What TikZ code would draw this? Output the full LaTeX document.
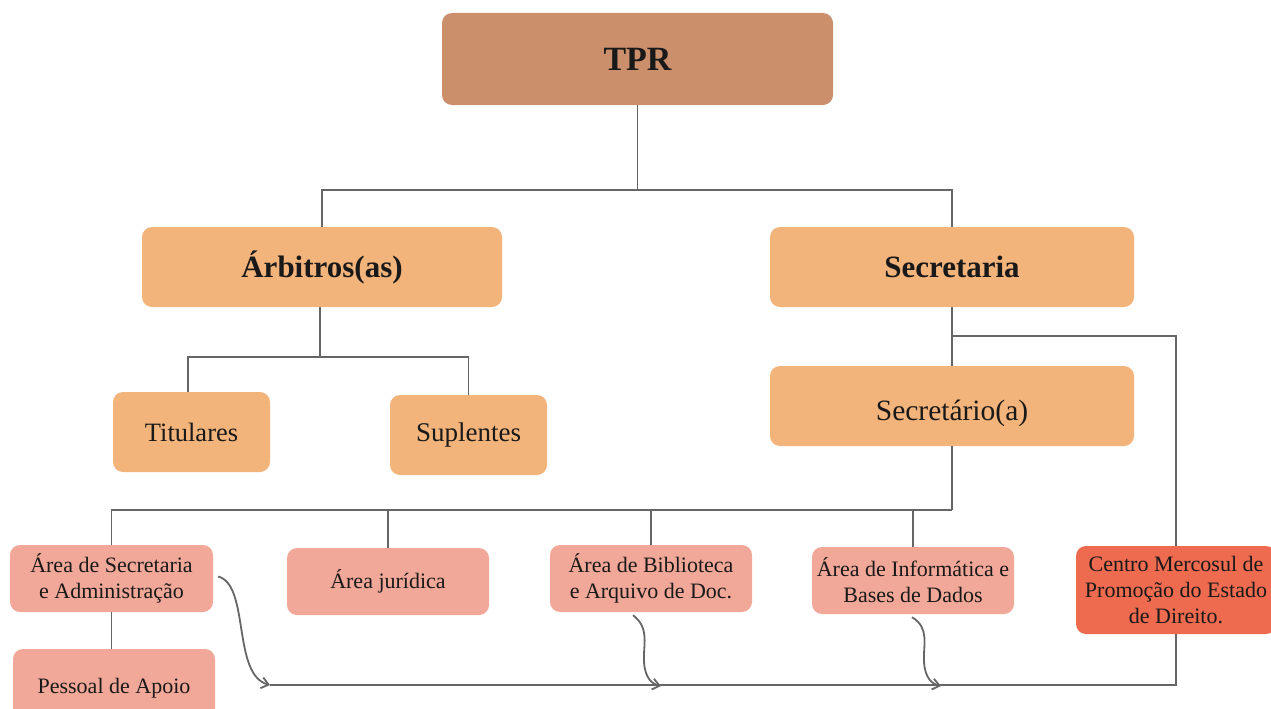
\documentclass[tikz,border=0pt]{standalone}
\usepackage{fontspec}
\setmainfont{Liberation Serif}
\usetikzlibrary{arrows.meta}
\definecolor{tprc}{HTML}{CC8F6C}
\definecolor{orgc}{HTML}{F3B47C}
\definecolor{pinkc}{HTML}{F2A898}
\definecolor{redc}{HTML}{EE6B50}
\definecolor{linec}{HTML}{666666}
\begin{document}
\begin{tikzpicture}[x=1pt,y=-1pt,
  box/.style={draw=none,rounded corners=10pt,align=center,inner sep=0pt,text=black!90},
  topbox/.style={box,fill=tprc,font=\fontsize{34}{38}\selectfont\bfseries},
  hbox/.style={box,fill=orgc,font=\fontsize{31}{35}\selectfont\bfseries},
  obox/.style={box,fill=orgc},
  pbox/.style={box,fill=pinkc,font=\fontsize{22}{26}\selectfont},
  rbox/.style={box,fill=redc,font=\fontsize{22}{26}\selectfont},
  conn/.style={draw=linec,line width=1.8pt},
  curvy/.style={draw=linec,line width=1.8pt,-{Straight Barb[length=7pt,width=11pt]}}]
\useasboundingbox (0,0) rectangle (1271,709);
% nodes
\node[topbox,minimum width=391pt,minimum height=92pt] (tpr) at (637.5,59) {TPR};
\node[hbox,minimum width=360pt,minimum height=80pt] (arb) at (322,267) {Árbitros(as)};
\node[hbox,minimum width=364pt,minimum height=80pt] (sec) at (952,267) {Secretaria};
\node[obox,font=\fontsize{26.5}{30}\selectfont,minimum width=157pt,minimum height=80pt] (tit) at (191.5,432) {Titulares};
\node[obox,font=\fontsize{27}{30}\selectfont,minimum width=157pt,minimum height=80pt] (sup) at (468.5,435) {Suplentes};
\node[obox,font=\fontsize{29.5}{33}\selectfont,minimum width=364pt,minimum height=80pt,text height=28pt,text depth=0pt] (sria) at (952,406) {Secretário(a)};
\node[pbox,minimum width=203pt,minimum height=67pt] (asa) at (111.5,578.5) {Área de Secretaria\\e Administração};
\node[pbox,minimum width=202pt,minimum height=67pt] (aju) at (388,581.5) {Área jurídica};
\node[pbox,minimum width=202pt,minimum height=67pt] (abi) at (651,578.5) {Área de Biblioteca\\e Arquivo de Doc.};
\node[pbox,minimum width=202pt,minimum height=67pt] (ainf) at (913,580.5) {Área de Informática e\\Bases de Dados};
\node[rbox,minimum width=200pt,minimum height=88pt] (cmp) at (1176,590) {Centro Mercosul de\\Promoção do Estado\\de Direito.};
\node[pbox,minimum width=202pt,minimum height=70pt,text height=18pt,text depth=0pt] (pap) at (114,684) {Pessoal de Apoio};
% coordinates
\coordinate (j1) at (637.5,190);
\coordinate (j2) at (320,357);
\coordinate (j3) at (952,336);
\coordinate (j4) at (952,510);
\coordinate (bl) at (270,685);
\coordinate (br) at (1176,685);
% connectors
\draw[conn] (tpr.south) -- (j1);
\draw[conn] (arb.north) |- (j1) -| (sec.north);
\draw[conn] (arb.south -| j2) -- (j2);
\draw[conn] (tit.north -| 188,0) |- (j2) -| (sup.north);
\draw[conn] (sec.south) -- (sria.north);
\draw[conn] (j3) -| (cmp.north);
\draw[conn] (sria.south) -- (j4);
\draw[conn] (asa.north) |- (j4);
\draw[conn] (aju.north) -- (aju.north |- j4);
\draw[conn] (abi.north) -- (abi.north |- j4);
\draw[conn] (ainf.north) -- (ainf.north |- j4);
\draw[conn] (asa.south) -- (asa.south |- pap.north);
\draw[conn] (bl) -- (br) -- (cmp.south);
% curvy arrows
\draw[curvy] (asa.east) ++(5,-2) .. controls (250,585) and (232,675) .. (bl);
\draw[curvy] (abi.south) ++(-18,3) .. controls (650,628) and (643,645) .. (644,662) .. controls (645,678) and (652,684) .. (661,686);
\draw[curvy] (ainf.south) ++(-1,3) .. controls (930,628) and (923,645) .. (924,662) .. controls (925,678) and (932,684) .. (941,686);
\end{tikzpicture}
\end{document}
